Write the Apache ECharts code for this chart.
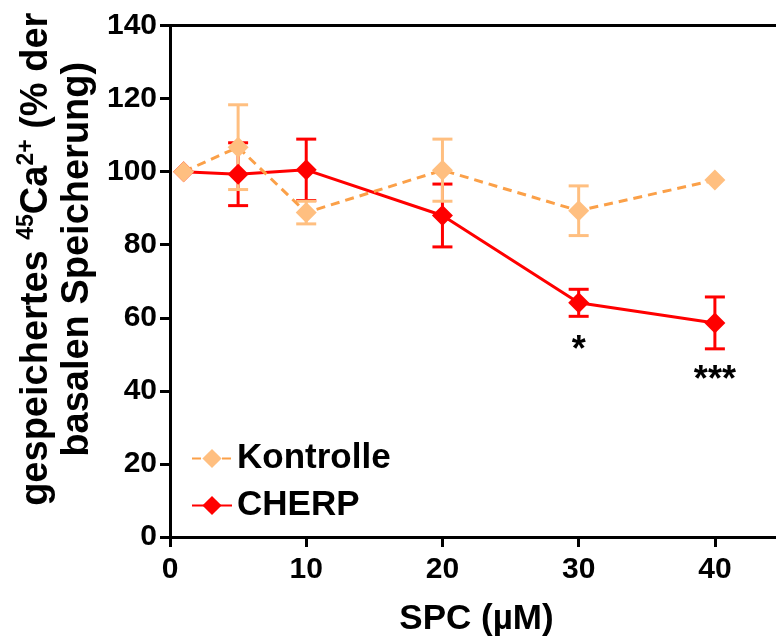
<!DOCTYPE html>
<html>
<head>
<meta charset="utf-8">
<script src="https://cdn.jsdelivr.net/npm/echarts@6/dist/echarts.min.js"></script>
<style>
  html, body { margin: 0; padding: 0; background: #fff; }
  #chart { width: 776px; height: 640px; }
</style>
</head>
<body>
<div id="chart"></div>
<script>
// SPC concentration (µM)
const doses = [1, 5, 10, 20, 30, 40];
const kontrolleMean = [100, 106.7, 88.8, 100.4, 89.3, 97.7];
const kontrolleErr = [0, 11.6, 3.1, 8.5, 6.8, 0];
const cherpMean = [100, 99.3, 100.5, 88.0, 64.1, 58.6];
const cherpErr = [0, 8.6, 8.4, 8.6, 3.7, 7.1];
// significance marks: x, y, text
const sigX = [30, 40];
const sigY = [51, 42.7];
const sigText = ['*', '***'];

const FONT = '"Liberation Sans", Arial, sans-serif';
const ORANGE = '#FFBF80';
const ORANGE_LINE = '#FBA048';
const RED = '#FF0000';

function pts(mean) {
  return doses.map((d, i) => [d, mean[i]]);
}
function bars(mean, err) {
  return doses.map((d, i) => [d, mean[i] - err[i], mean[i] + err[i]])
    .filter((r, i) => err[i] > 0);
}

function errorBars(color) {
  return function (params, api) {
    const x = api.value(0);
    const lo = api.coord([x, api.value(1)]);
    const hi = api.coord([x, api.value(2)]);
    const hw = 10;
    const style = { stroke: color, lineWidth: 3 };
    return {
      type: 'group',
      children: [
        { type: 'line', shape: { x1: lo[0], y1: lo[1], x2: hi[0], y2: hi[1] }, style },
        { type: 'line', shape: { x1: hi[0] - hw, y1: hi[1], x2: hi[0] + hw, y2: hi[1] }, style },
        { type: 'line', shape: { x1: lo[0] - hw, y1: lo[1], x2: lo[0] + hw, y2: lo[1] }, style }
      ]
    };
  };
}

const chart = echarts.init(document.getElementById('chart'));

const axisText = { color: '#000', fontSize: 30, fontWeight: 'bold', fontFamily: FONT };

chart.setOption({
  animation: false,
  backgroundColor: '#fff',
  grid: { left: 170, top: 25.5, width: 613, height: 511.5, containLabel: false, outerBoundsMode: 'none' },
  legend: {
    orient: 'vertical',
    left: 186,
    top: 436,
    itemWidth: 40,
    itemHeight: 24,
    itemGap: 12,
    data: ['Kontrolle', 'CHERP'],
    textStyle: { color: '#000', fontSize: 35, fontWeight: 'bold', fontFamily: FONT }
  },
  xAxis: [{
    type: 'value',
    min: 0,
    max: 45,
    interval: 10,
    name: 'SPC (µM)',
    nameLocation: 'middle',
    nameGap: 65,
    nameTextStyle: { color: '#000', fontSize: 35, fontWeight: 'bold', fontFamily: FONT },
    axisLine: { lineStyle: { color: '#000', width: 3 } },
    axisTick: { length: 10, lineStyle: { color: '#000', width: 3 } },
    axisLabel: Object.assign({ margin: 18, showMaxLabel: false }, axisText),
    splitLine: { show: false }
  }, {
    type: 'value',
    position: 'top',
    min: 0,
    max: 45,
    axisLine: { show: true, onZero: false, lineStyle: { color: '#000', width: 3 } },
    axisTick: { show: false },
    axisLabel: { show: false },
    splitLine: { show: false }
  }],
  yAxis: {
    type: 'value',
    min: 0,
    max: 140,
    interval: 20,
    name: '{t|gespeichertes }{s|45}{t|Ca}{s|2+}{t| (% der}\n{t|basalen Speicherung)}',
    nameLocation: 'middle',
    nameRotate: 90,
    nameGap: 55,
    nameTextStyle: {
      color: '#000',
      fontFamily: FONT,
      fontWeight: 'bold',
      padding: [0, 0, 0, 44],
      rich: {
        t: { fontSize: 38, fontWeight: 'bold', fontFamily: FONT, color: '#000', lineHeight: 41 },
        s: { fontSize: 23, fontWeight: 'bold', fontFamily: FONT, color: '#000', lineHeight: 41, verticalAlign: 'top' }
      }
    },
    axisLine: { show: true, lineStyle: { color: '#000', width: 3 } },
    axisTick: { show: true, length: 10, lineStyle: { color: '#000', width: 3 } },
    axisLabel: Object.assign({ margin: 13 }, axisText),
    splitLine: { show: false }
  },
  series: [
    {
      name: 'CHERP-err',
      type: 'custom',
      renderItem: errorBars(RED),
      data: bars(cherpMean, cherpErr),
      encode: { x: 0, y: [1, 2] },
      silent: true
    },
    {
      name: 'CHERP',
      type: 'line',
      data: pts(cherpMean),
      symbol: 'diamond',
      symbolSize: 21,
      itemStyle: { color: RED },
      lineStyle: { color: RED, width: 3 }
    },
    {
      name: 'Kontrolle-err',
      type: 'custom',
      renderItem: errorBars(ORANGE),
      data: bars(kontrolleMean, kontrolleErr),
      encode: { x: 0, y: [1, 2] },
      silent: true
    },
    {
      name: 'Kontrolle',
      type: 'line',
      data: pts(kontrolleMean),
      symbol: 'diamond',
      symbolSize: 21,
      itemStyle: { color: ORANGE },
      lineStyle: { color: ORANGE_LINE, width: 3, type: [9, 6] }
    },
    {
      name: 'sig',
      type: 'scatter',
      symbolSize: 0,
      silent: true,
      itemStyle: { opacity: 1, color: '#000' },
      data: sigX.map((x, i) => ({ value: [x, sigY[i]], label: { formatter: sigText[i] } })),
      label: {
        show: true,
        position: 'inside',
        color: '#000',
        fontSize: 36,
        fontWeight: 'bold',
        fontFamily: FONT
      }
    }
  ]
});
</script>
</body>
</html>
